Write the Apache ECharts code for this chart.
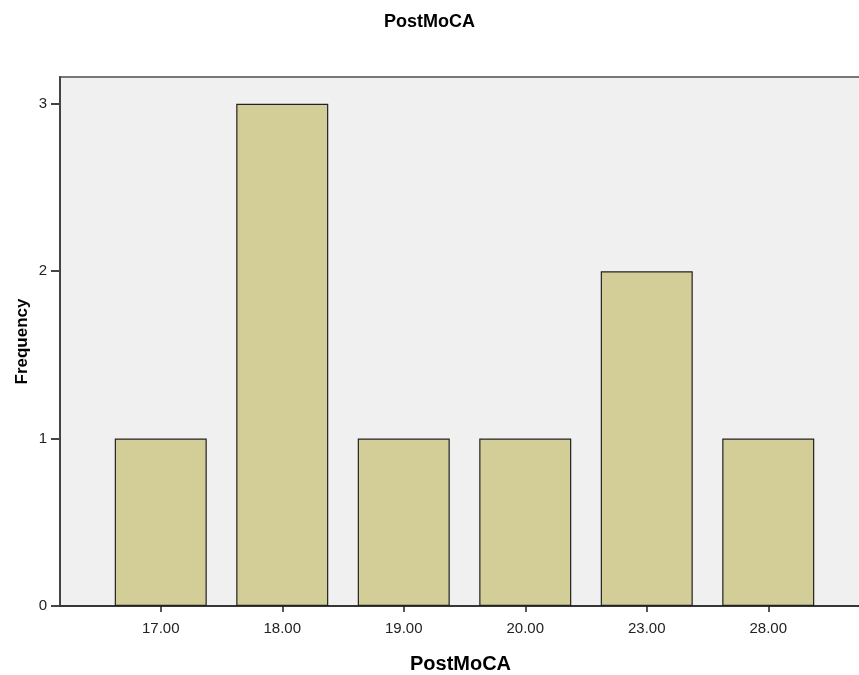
<!DOCTYPE html>
<html>
<head>
<meta charset="utf-8">
<script src="https://cdn.jsdelivr.net/npm/echarts@6/dist/echarts.min.js"></script>
<style>html,body{margin:0;padding:0;background:#fff}#c{width:859px;height:675px}</style>
</head>
<body>
<div id="c"></div>
<script>
const categories = ['17.00', '18.00', '19.00', '20.00', '23.00', '28.00'];
const frequency = [1, 3, 1, 1, 2, 1];
const yTicks = [0, 1, 2, 3];

const chart = echarts.init(document.getElementById('c'));
const font = 'Liberation Sans, Arial, sans-serif';
const yMax = 3.16;
chart.setOption({
  animation: false,
  title: {
    text: 'PostMoCA', left: 'center', top: 8,
    textStyle: { fontFamily: font, fontSize: 18, fontWeight: 'bold', color: '#000' }
  },
  grid: [
    { left: 60, right: -2, top: 77, bottom: 69, outerBoundsMode: 'none', containLabel: false, show: true, backgroundColor: '#f0f0f0', borderColor: '#777', borderWidth: 2 },
    { left: 100, right: 30, top: 77, bottom: 69, outerBoundsMode: 'none', containLabel: false }
  ],
  xAxis: [
    {
      gridIndex: 0, type: 'value', min: 0, max: 1,
      name: 'PostMoCA', nameLocation: 'middle', nameGap: 48, nameMoveOverlap: false,
      nameTextStyle: { fontFamily: font, fontSize: 20, fontWeight: 'bold', color: '#000' },
      axisLine: { show: true, lineStyle: { color: '#222', width: 1.5 } },
      axisTick: { show: false }, axisLabel: { show: false }, splitLine: { show: false }
    },
    {
      gridIndex: 1, type: 'category', data: categories,
      axisLine: { show: false },
      axisTick: { show: true, alignWithLabel: true, length: 6, lineStyle: { color: '#222', width: 1.5 } },
      axisLabel: { fontFamily: font, fontSize: 15, color: '#222', margin: 15 },
      splitLine: { show: false }
    }
  ],
  yAxis: [
    {
      gridIndex: 0, type: 'value', min: 0, max: yMax,
      name: 'Frequency', nameLocation: 'middle', nameGap: 29, nameRotate: 90, nameMoveOverlap: false,
      nameTextStyle: { fontFamily: font, fontSize: 17, fontWeight: 'bold', color: '#000' },
      axisLine: { show: true, lineStyle: { color: '#444', width: 2 } },
      axisTick: { show: true, length: 9, customValues: yTicks, lineStyle: { color: '#444', width: 2 } },
      axisLabel: { fontFamily: font, fontSize: 15, color: '#222', margin: 13, customValues: yTicks },
      splitLine: { show: false }
    },
    {
      gridIndex: 1, type: 'value', min: 0, max: yMax, show: false
    }
  ],
  series: [{
    type: 'bar', xAxisIndex: 1, yAxisIndex: 1,
    data: frequency, barWidth: 92,
    itemStyle: { color: '#d3ce98', borderColor: '#222', borderWidth: 1.2 }
  }]
});
</script>
</body>
</html>
